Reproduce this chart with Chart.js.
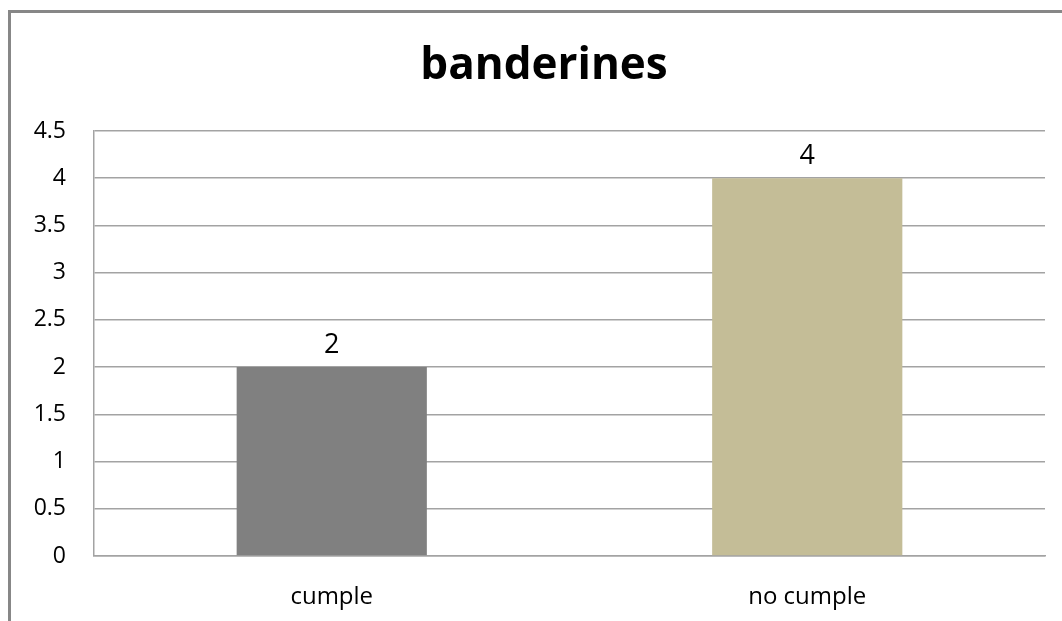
<!DOCTYPE html>
<html>
<head>
<meta charset="utf-8">
<script src="https://cdn.jsdelivr.net/npm/chart.js@4/dist/chart.umd.min.js"></script>
<style>
  html, body { margin: 0; padding: 0; background: #ffffff; }
  #wrap { position: relative; width: 1062px; height: 621px; overflow: hidden; }
  #frame {
    position: absolute; left: 8px; top: 10px; width: 1200px; height: 800px;
    border-left: 3px solid #878787; border-top: 3px solid #878787;
  }
  canvas { position: absolute; left: 0; top: 0; }
</style>
</head>
<body>
<div id="wrap">
  <div id="frame"></div>
  <canvas id="chart" width="1062" height="621"></canvas>
</div>
<script>
const chartTitle = 'banderines';
const categories = ['cumple', 'no cumple'];
const values = [2, 4];
const barColors = ['#808080', '#C4BD97'];
const yTicks = [0, 0.5, 1, 1.5, 2, 2.5, 3, 3.5, 4, 4.5];

const FONT = "'Open Sans', 'Liberation Sans', sans-serif";
const GRID = '#a3a3a3';

// Chart title, centred on the outer frame
const titleText = {
  id: 'titleText',
  afterDraw(chart) {
    const ctx = chart.ctx;
    ctx.save();
    ctx.font = 'bold 44px ' + FONT;
    ctx.fillStyle = '#000000';
    ctx.textAlign = 'center';
    ctx.textBaseline = 'alphabetic';
    ctx.fillText(chartTitle, 544, 79);
    ctx.restore();
  }
};

// Value labels drawn above each bar
const valueLabels = {
  id: 'valueLabels',
  afterDatasetsDraw(chart) {
    const ctx = chart.ctx;
    const meta = chart.getDatasetMeta(0);
    ctx.save();
    ctx.font = '27px ' + FONT;
    ctx.fillStyle = '#000000';
    ctx.textAlign = 'center';
    ctx.textBaseline = 'alphabetic';
    meta.data.forEach((bar, i) => {
      ctx.fillText(String(values[i]), bar.x, bar.y - 14);
    });
    ctx.restore();
  }
};

new Chart(document.getElementById('chart'), {
  type: 'bar',
  data: {
    labels: categories,
    datasets: [{
      data: values,
      backgroundColor: barColors,
      borderWidth: 0,
      categoryPercentage: 1.0,
      barPercentage: 0.4
    }]
  },
  options: {
    responsive: false,
    animation: false,
    devicePixelRatio: 1,
    layout: { padding: { left: 0, right: 17, top: 131, bottom: 0 } },
    plugins: {
      legend: { display: false },
      tooltip: { enabled: false },
      title: { display: false }
    },
    scales: {
      x: {
        grid: { display: false, drawTicks: false },
        border: { display: true, color: GRID, width: 1.5 },
        ticks: {
          color: '#000000',
          font: { family: FONT, size: 24 },
          padding: 27,
          maxRotation: 0
        },
        afterFit(scale) { scale.height = 65; }
      },
      y: {
        min: 0,
        max: 4.5,
        afterBuildTicks(scale) { scale.ticks = yTicks.map(v => ({ value: v })); },
        grid: { color: GRID, lineWidth: 1.5, drawTicks: false },
        border: { display: true, color: GRID, width: 1.5 },
        ticks: {
          color: '#000000',
          font: { family: FONT, size: 23 },
          padding: 28,
          callback: v => String(v)
        },
        afterFit(scale) { scale.width = 94; }
      }
    }
  },
  plugins: [titleText, valueLabels]
});
</script>
</body>
</html>
